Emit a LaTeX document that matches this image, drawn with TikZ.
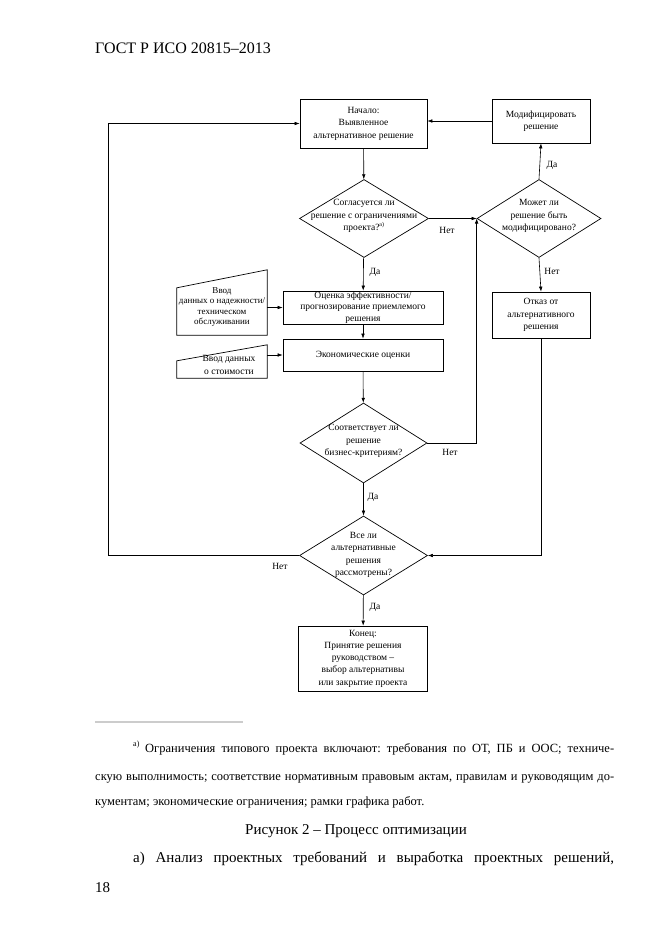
\documentclass[tikz,border=0pt]{standalone}
\usepackage{fontspec}
\setmainfont{Liberation Serif}
\usetikzlibrary{shapes.geometric,arrows.meta}
\newcommand\dfont{\fontsize{9.5}{12.5}\selectfont}
\newcommand\fnfont{\fontsize{12.5}{14}\selectfont}
\newcommand\bodyfont{\fontsize{15}{17}\selectfont}
\frenchspacing
\begin{document}
\begin{tikzpicture}[x=1pt,y=-1pt,
 ln/.style={line width=0.6pt},
 arr/.style={ln,-{Latex[length=5pt,width=3.6pt]}},
 bx/.style={draw,line width=0.7pt,inner sep=0pt,align=center,font=\dfont},
 dia/.style={draw,line width=0.7pt,diamond,inner sep=0pt},
 dtxt/.style={align=center,font=\dfont,inner sep=0pt},
 lbl/.style={font=\dfont,inner sep=0pt},
 inshape/.style={draw=none,inner sep=0pt},
 ptxt/.style={inner sep=0pt,anchor=base west}]
\useasboundingbox[fill=white] (0,0) rectangle (661,936);

% header
\node[ptxt,font=\fontsize{16}{18}\selectfont] (hdr) at (95,54) {ГОСТ Р ИСО 20815–2013};

% boxes
\node[bx,minimum width=127,minimum height=49] (start) at (363.5,123.5) {Начало:\\Выявленное\\альтернативное решение};
\node[bx,minimum width=98,minimum height=44] (mod) at (541,121) {Модифицировать\\решение};
\node[dia,minimum width=129,minimum height=78] (d1) at (364,218.5) {};
\node[dtxt] (d1t) at (364,216) {Согласуется ли\\решение с ограничениями\\проекта?\textsuperscript{\fontsize{6}{6}\selectfont а)}};
\node[dia,minimum width=124,minimum height=78] (d2) at (539,218.5) {};
\node[dtxt] (d2t) at (539,216) {Может ли\\решение быть\\модифицировано?};
\node[bx,minimum width=98,minimum height=46] (refuse) at (541,315) {Отказ от\\альтернативного\\решения};
\node[bx,minimum width=160,minimum height=33,font=\fontsize{9.5}{11.5}\selectfont] (eval) at (363,307.5) {Оценка эффективности/\\прогнозирование приемлемого\\решения};
\node[bx,minimum width=160,minimum height=32] (econ) at (363,355) {Экономические оценки};
\node[dia,minimum width=127,minimum height=80] (d3) at (363.5,443) {};
\node[dtxt] (d3t) at (363.5,441) {Соответствует ли\\решение\\бизнес-критериям?};
\node[dia,minimum width=128,minimum height=79] (d4) at (363.5,555.5) {};
\node[dtxt] (d4t) at (363.5,555) {Все ли\\альтернативные\\решения\\рассмотрены?};
\node[bx,minimum width=129,minimum height=65,font=\fontsize{9.5}{12.2}\selectfont] (end) at (363,658.5) {Конец:\\Принятие решения\\руководством –\\выбор альтернативы\\или закрытие проекта};

% manual input shapes
\node[inshape,minimum width=90,minimum height=65] (in1) at (222,302.5) {};
\draw[line width=0.7pt] (in1.south west) -- (in1.south east) -- (in1.north east) -- ([yshift=-18pt]in1.north west) -- cycle;
\node[dtxt,font=\fontsize{9}{10.4}\selectfont] (in1t) at (222,307) {Ввод\\данных о надежности/\\техническом\\обслуживании};
\node[inshape,minimum width=90,minimum height=33] (in2) at (222,361.5) {};
\draw[line width=0.7pt] (in2.south west) -- (in2.south east) -- (in2.north east) -- ([yshift=-16pt]in2.north west) -- cycle;
\node[dtxt,font=\fontsize{9.5}{12.5}\selectfont] (in2t) at (229,365) {Ввод данных\\о стоимости};

% connectors
\draw[arr] (start) -- (d1);
\draw[arr] (d1) -- (eval);
\draw[arr] (eval) -- (econ);
\draw[arr] (econ) -- (d3);
\draw[arr] (d3) -- (d4);
\draw[arr] (d4) -- (end);
\draw[arr] (d1.east) -- (d2.west);
\draw[arr] (d2.north) -- (mod.south);
\draw[arr] (mod.west) -- (mod.west -| start.east);
\draw[arr] (d2.south) -- (refuse.north);
\draw[arr] (refuse.south) |- (d4.east);
\draw[arr] (d3.east) -| (d2.west);
\coordinate (lft) at (108,123.5);
\draw[arr] (d4.west) -| (lft) -- (start.west);
\draw[arr] (in1.east |- eval.west) -- (eval.west);
\draw[arr] (in2.east |- econ.west) -- (econ.west);

% labels
\node[lbl] (l1) at (375,272) {Да};
\node[lbl] (l2) at (447,230) {Нет};
\node[lbl] (l3) at (552,165) {Да};
\node[lbl] (l4) at (552,271) {Нет};
\node[lbl] (l5) at (450,452) {Нет};
\node[lbl] (l6) at (373,497) {Да};
\node[lbl] (l7) at (280,566) {Нет};
\node[lbl] (l8) at (375,607) {Да};

% footnote
\draw[black!20,line width=1.2pt] (95,722) -- (243,722);
\node[ptxt,font=\fontsize{8}{9}\selectfont] (fsup) at (133,746) {а)};
\node[ptxt,font=\fnfont] (f1) at (145,752) {\makebox[469pt][s]{Ограничения типового проекта включают: требования по ОТ, ПБ и ООС; техниче-}};
\node[ptxt,font=\fnfont] (f2) at (95,780) {\makebox[519pt][s]{скую выполнимость; соответствие нормативным правовым актам, правилам и руководящим до-}};
\node[ptxt,font=\fnfont] (f3) at (95,805) {кументам; экономические ограничения; рамки графика работ.};
\node[inner sep=0pt,anchor=base,font=\bodyfont] (cap) at (356,834) {Рисунок 2 – Процесс оптимизации};
\node[ptxt,font=\bodyfont] (b1) at (133,862) {\makebox[481pt][s]{а) Анализ проектных требований и выработка проектных решений,}};
\node[ptxt,font=\bodyfont] (pg) at (95,892) {18};
\end{tikzpicture}
\end{document}
